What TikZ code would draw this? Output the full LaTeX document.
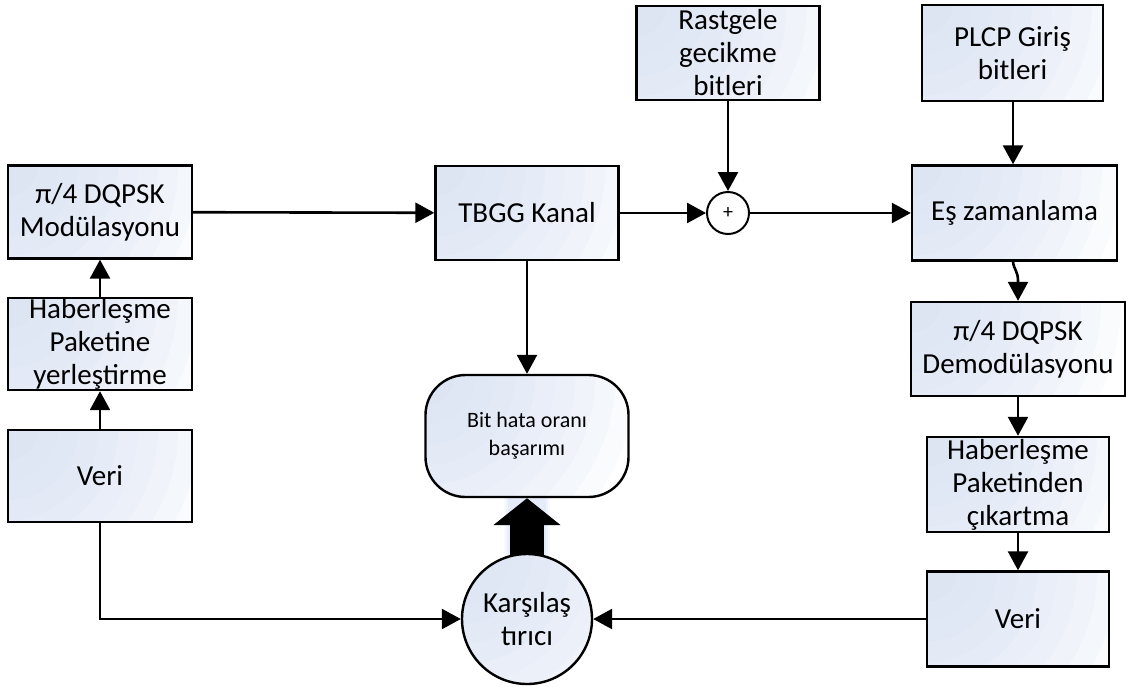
\documentclass[tikz,border=0pt]{standalone}
\usepackage{fontspec}
\setmainfont{Carlito}
\usetikzlibrary{arrows.meta,backgrounds}

\definecolor{boxtint}{RGB}{212,223,243}

\tikzset{
  every picture/.style={x=1pt,y=-1pt},
  % light blue tint fading out from the upper left corner, built from
  % overlapping translucent discs
  shadefill/.style={fill=white,path picture={
      \foreach \r in {30,50,...,210}
        \fill[boxtint,opacity=0.12] (path picture bounding box.north west) circle (\r pt);}},
  block/.style={draw=black,line width=2.4pt,shadefill,inner sep=0pt,align=center,
    font=\fontsize{29}{33}\selectfont},
  sumnode/.style={circle,draw=black,line width=2pt,fill=white,inner sep=0pt,
    minimum size=42pt,font=\fontsize{20}{24}\selectfont},
  arr/.style={draw=black,line width=2.6pt,-{Triangle[length=19pt,width=20pt]}},
  fatarr/.style={draw=black,line width=34pt,-{Triangle[length=27pt,width=66pt]}},
}

\begin{document}
\begin{tikzpicture}
\useasboundingbox (0,0) rectangle (1126,686);

% transmitter chain
\node[block,minimum width=184pt,minimum height=93pt] (mod) at (100,212)
  {π/4 DQPSK\\Modülasyonu};
\node[block,minimum width=184pt,minimum height=92pt] (hab) at (100,344)
  {Haberleşme\\Paketine\\yerleştirme};
\node[block,minimum width=184pt,minimum height=92pt] (veriL) at (100,476) {Veri};

% channel and delay insertion
\node[block,minimum width=183pt,minimum height=94pt] (tbgg) at (527,213) {TBGG Kanal};
\node[block,minimum width=183pt,minimum height=94pt] (rast) at (728,53)
  {Rastgele\\gecikme\\bitleri};
\node[sumnode] (sum) at (728,213) {+};

% receiver chain
\node[block,minimum width=181pt,minimum height=96pt] (plcp) at (1012.5,53)
  {PLCP Giriş\\bitleri};
\node[block,minimum width=205pt,minimum height=95pt] (es) at (1014.5,213) {Eş zamanlama};
\node[block,minimum width=214pt,minimum height=94pt] (demod) at (1018,349)
  {π/4 DQPSK\\Demodülasyonu};
\node[block,minimum width=182pt,minimum height=95pt] (habc) at (1018,484.5)
  {Haberleşme\\Paketinden\\çıkartma};
\node[block,minimum width=182pt,minimum height=95pt] (veriR) at (1018,619) {Veri};

% evaluation
\node[block,rounded corners=40pt,minimum width=203pt,minimum height=122pt,
  font=\fontsize{22}{28}\selectfont] (ber) at (527,436) {Bit hata oranı\\başarımı};
\node[block,circle,minimum size=130pt] (comp) at (527,619) {Karşılaş\\tırıcı};

% connectors
\draw[arr] (veriL) -- (hab);
\draw[arr] (hab) -- (mod);
\draw[arr] (mod) -- (tbgg);
\draw[arr] (tbgg) -- (sum);
\draw[arr] (rast) -- (sum);
\draw[arr] (sum) -- (es);
\draw[arr] (plcp.south -| 1013,0) -- (es.north -| 1013,0);
\draw[arr] (es.south -| 1013,0) .. controls (1014,270) and (1018,271) .. (1018,281)
  -- (demod.north);
\draw[arr] (demod) -- (habc);
\draw[arr] (habc) -- (veriR);
\draw[arr] (tbgg) -- (ber);
\draw[arr] (veriL.south) |- (comp.west);
\draw[arr] (veriR.west) -- (comp.east);

% thick result arrow with a soft glow around its shaft
\begin{pgfonlayer}{background}
  \foreach \w/\o in {46/0.15,42/0.25,38/0.4}
    \draw[boxtint,line width=\w pt,opacity=\o] (comp.center) -- ([yshift=27pt]ber.south);
  \draw[fatarr] (comp.center) -- (ber.south);
\end{pgfonlayer}
\end{tikzpicture}
\end{document}
